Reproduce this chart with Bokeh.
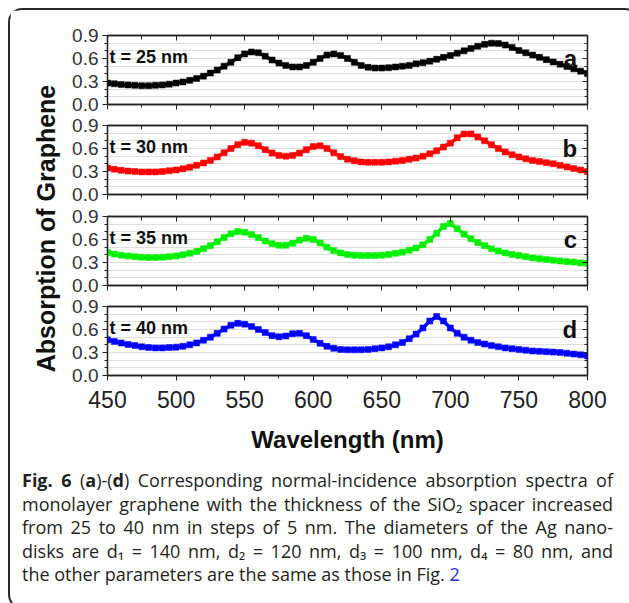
from bokeh.plotting import figure
from bokeh.models import Range1d, FixedTicker, LinearAxis, Div
from bokeh.layouts import column, row
from bokeh.core.properties import value
from bokeh.embed import file_html
from bokeh.resources import INLINE

wavelength = [450, 455, 460, 465, 470, 475, 480, 485, 490, 495,
              500, 505, 510, 515, 520, 525, 530, 535, 540, 545,
              550, 555, 560, 565, 570, 575, 580, 585, 590, 595,
              600, 605, 610, 615, 620, 625, 630, 635, 640, 645,
              650, 655, 660, 665, 670, 675, 680, 685, 690, 695,
              700, 705, 710, 715, 720, 725, 730, 735, 740, 745,
              750, 755, 760, 765, 770, 775, 780, 785, 790, 795, 800]

abs_t25 = [0.28, 0.27, 0.26, 0.255, 0.25, 0.245, 0.245, 0.25, 0.255, 0.265,
           0.28, 0.295, 0.315, 0.34, 0.37, 0.41, 0.45, 0.50, 0.55, 0.61,
           0.66, 0.685, 0.675, 0.63, 0.58, 0.54, 0.51, 0.49, 0.49, 0.51,
           0.55, 0.60, 0.645, 0.66, 0.64, 0.60, 0.55, 0.51, 0.485, 0.475,
           0.475, 0.48, 0.49, 0.50, 0.51, 0.53, 0.545, 0.565, 0.59, 0.615,
           0.64, 0.67, 0.70, 0.73, 0.76, 0.785, 0.80, 0.795, 0.775, 0.745,
           0.705, 0.675, 0.645, 0.615, 0.585, 0.555, 0.525, 0.495, 0.465, 0.435, 0.405]

abs_t30 = [0.345, 0.33, 0.315, 0.305, 0.30, 0.295, 0.295, 0.295, 0.30, 0.31,
           0.32, 0.335, 0.355, 0.38, 0.41, 0.445, 0.49, 0.545, 0.60, 0.65,
           0.68, 0.67, 0.635, 0.585, 0.54, 0.51, 0.50, 0.51, 0.54, 0.585,
           0.625, 0.635, 0.60, 0.545, 0.495, 0.46, 0.44, 0.425, 0.42, 0.42,
           0.42, 0.425, 0.435, 0.445, 0.46, 0.475, 0.50, 0.53, 0.57, 0.62,
           0.67, 0.74, 0.79, 0.79, 0.75, 0.70, 0.65, 0.60, 0.555, 0.52,
           0.49, 0.465, 0.445, 0.43, 0.415, 0.40, 0.38, 0.36, 0.34, 0.32, 0.30]

abs_t35 = [0.43, 0.41, 0.395, 0.385, 0.375, 0.37, 0.365, 0.365, 0.37, 0.375,
           0.385, 0.40, 0.42, 0.445, 0.48, 0.52, 0.57, 0.625, 0.675, 0.705,
           0.695, 0.665, 0.625, 0.58, 0.545, 0.525, 0.525, 0.55, 0.59, 0.615,
           0.60, 0.555, 0.50, 0.455, 0.425, 0.405, 0.395, 0.39, 0.39, 0.39,
           0.395, 0.405, 0.42, 0.435, 0.46, 0.49, 0.53, 0.60, 0.68, 0.77,
           0.81, 0.74, 0.67, 0.61, 0.56, 0.52, 0.48, 0.45, 0.425, 0.405,
           0.39, 0.375, 0.36, 0.35, 0.34, 0.33, 0.32, 0.31, 0.305, 0.295, 0.29]

abs_t40 = [0.465, 0.445, 0.425, 0.405, 0.39, 0.375, 0.365, 0.36, 0.36, 0.365,
           0.37, 0.38, 0.40, 0.425, 0.46, 0.50, 0.55, 0.605, 0.655, 0.68,
           0.67, 0.64, 0.60, 0.56, 0.52, 0.505, 0.515, 0.545, 0.55, 0.52,
           0.47, 0.42, 0.38, 0.355, 0.34, 0.335, 0.335, 0.335, 0.34, 0.35,
           0.36, 0.375, 0.40, 0.43, 0.48, 0.54, 0.62, 0.71, 0.77, 0.71,
           0.62, 0.55, 0.50, 0.46, 0.43, 0.41, 0.39, 0.375, 0.36, 0.35,
           0.34, 0.33, 0.32, 0.315, 0.31, 0.305, 0.30, 0.29, 0.28, 0.27, 0.255]

series = [abs_t25, abs_t30, abs_t35, abs_t40]
colors = ["#000000", "#ff0000", "#00f000", "#0000ff"]
thickness_labels = ["t = 25 nm", "t = 30 nm", "t = 35 nm", "t = 40 nm"]
panel_letters = ["a", "b", "c", "d"]

x_major = [450, 500, 550, 600, 650, 700, 750, 800]
x_minor = [475, 525, 575, 625, 675, 725, 775]
y_major = [0.0, 0.3, 0.6, 0.9]
y_minor = [0.1, 0.2, 0.4, 0.5, 0.7, 0.8]
y_tick_labels = {0.0: "0.0", 0.3: "0.3", 0.6: "0.6", 0.9: "0.9"}
x_blank = {t: "" for t in x_major}
y_blank = {t: "" for t in y_major}

FONT = "Liberation Sans"
AX = "#222222"

# figure geometry: (height, top border, bottom border)
geoms = [(105, 25, 11), (90, 10, 11), (91, 11, 11), (167, 10, 88)]
YW = 52
PW = 617 - YW

figs = []
for i in range(4):
    h, bt, bb = geoms[i]
    last = (i == 3)
    p = figure(width=PW, height=h, output_backend="svg", toolbar_location=None,
               x_range=Range1d(450, 800), y_range=Range1d(0, 0.9),
               min_border_left=45, min_border_right=PW - 45 - 480, min_border_top=bt,
               min_border_bottom=bb, background_fill_color="white",
               border_fill_color="white")
    p.outline_line_color = AX
    p.outline_line_width = 1.3
    xt = FixedTicker(ticks=x_major, minor_ticks=x_minor)
    yt = FixedTicker(ticks=y_major, minor_ticks=y_minor)

    # bottom axis
    xa = p.xaxis[0]
    xa.ticker = xt
    xa.axis_line_color = AX
    xa.axis_line_width = 1.3
    xa.major_tick_line_color = AX
    xa.minor_tick_line_color = AX
    xa.major_tick_in = 0
    xa.major_tick_out = 5
    xa.minor_tick_in = 0
    xa.minor_tick_out = 3
    if last:
        xa.major_label_text_font = FONT
        xa.major_label_text_font_size = "23px"
        xa.major_label_text_color = AX
        xa.major_label_standoff = 10
        xa.axis_label = "Wavelength (nm)"
        xa.axis_label_text_font = FONT
        xa.axis_label_text_font_style = "bold"
        xa.axis_label_text_font_size = "24px"
        xa.axis_label_text_color = "#111111"
        xa.axis_label_standoff = 15
    else:
        xa.major_label_overrides = x_blank
        xa.major_label_text_font_size = "1px"
        xa.major_label_standoff = 0

    # left axis
    ya = p.yaxis[0]
    ya.ticker = yt
    ya.major_label_overrides = y_tick_labels
    ya.axis_line_color = AX
    ya.axis_line_width = 1.3
    ya.major_tick_line_color = AX
    ya.minor_tick_line_color = AX
    ya.major_tick_in = 0
    ya.major_tick_out = 5
    ya.minor_tick_in = 0
    ya.minor_tick_out = 3
    ya.major_label_text_font = FONT
    ya.major_label_text_font_size = "19px"
    ya.major_label_text_color = "#333333"
    ya.major_label_standoff = 4

    # top and right axes (ticks inward, no labels)
    top = LinearAxis(ticker=xt, major_label_overrides=x_blank,
                     major_label_text_font_size="1px", major_label_standoff=0,
                     axis_line_color=AX, axis_line_width=1.3,
                     major_tick_line_color=AX, minor_tick_line_color=AX,
                     major_tick_in=5, major_tick_out=0, minor_tick_in=4, minor_tick_out=0)
    right = LinearAxis(ticker=yt, major_label_overrides=y_blank,
                       major_label_text_font_size="1px", major_label_standoff=0,
                       axis_line_color=AX, axis_line_width=1.3,
                       major_tick_line_color=AX, minor_tick_line_color=AX,
                       major_tick_in=5, major_tick_out=0, minor_tick_in=3, minor_tick_out=0)
    p.add_layout(top, "above")
    p.add_layout(right, "right")

    p.xgrid.grid_line_color = None
    p.ygrid.ticker = yt
    p.ygrid.grid_line_color = "#dedede"
    p.ygrid.minor_grid_line_color = "#dedede"
    p.ygrid.grid_line_width = 1

    p.line(wavelength, series[i], line_color=colors[i], line_width=3.5)
    p.scatter(wavelength, series[i], marker="square", size=6,
              fill_color=colors[i], line_color=colors[i], line_width=0.5)

    p.text(x=[451.5], y=[0.615], text=[thickness_labels[i]], text_font=value(FONT),
           text_font_style="bold", text_font_size="18px", text_color="#111111",
           text_align="left", text_baseline="alphabetic")
    p.text(x=[792.5], y=[0.60], text=[panel_letters[i]], text_font=value(FONT),
           text_font_style="bold", text_font_size="24px", text_color="#111111",
           text_align="right", text_baseline="alphabetic")
    figs.append(p)

# y-axis title spanning the four panels, drawn as an axis label
ylab = figure(width=YW, height=453, output_backend="svg", toolbar_location=None,
              x_range=Range1d(0, 1), y_range=Range1d(0, 1),
              min_border_left=49, min_border_right=0, min_border_top=0,
              min_border_bottom=17, x_axis_type=None)
ylab.outline_line_color = None
ylab.grid.grid_line_color = None
yl = ylab.yaxis[0]
yl.ticker = FixedTicker(ticks=[])
yl.axis_line_color = None
yl.major_tick_line_color = None
yl.minor_tick_line_color = None
yl.major_label_standoff = 0
yl.axis_label = "Absorption of Graphene"
yl.axis_label_text_font = FONT
yl.axis_label_text_font_style = "bold"
yl.axis_label_text_font_size = "25px"
yl.axis_label_text_color = "#111111"
yl.axis_label_standoff = 0

line_style = "text-align:justify;text-align-last:justify;white-space:nowrap;"
caption_html = (
    "<div style=\"font-family:'Open Sans';font-size:18px;line-height:23.5px;color:#231f20;"
    "box-sizing:border-box;width:598px;padding:1px 0 0 7px;\">"
    f"<div style='{line_style}'><b>Fig. 6</b> (<b>a</b>)-(<b>d</b>) Corresponding normal-incidence absorption spectra of</div>"
    f"<div style='{line_style}'>monolayer graphene with the thickness of the SiO₂ spacer increased</div>"
    f"<div style='{line_style}'>from 25 to 40 nm in steps of 5 nm. The diameters of the Ag nano-</div>"
    f"<div style='{line_style}'>disks are d₁ = 140 nm, d₂ = 120 nm, d₃ = 100 nm, d₄ = 80 nm, and</div>"
    "<div>the other parameters are the same as those in Fig. <span style='color:#2b2bd9'>2</span></div>"
    "</div>"
)
caption = Div(text=caption_html, width=617, height=134)

layout = column(row(ylab, column(*figs)), caption,
                styles={"border": "2px solid #2a2a2a", "border-radius": "14px",
                        "background-color": "white", "margin": "8px 0 0 8px"})

open("out.html", "w").write(file_html(layout, INLINE))
